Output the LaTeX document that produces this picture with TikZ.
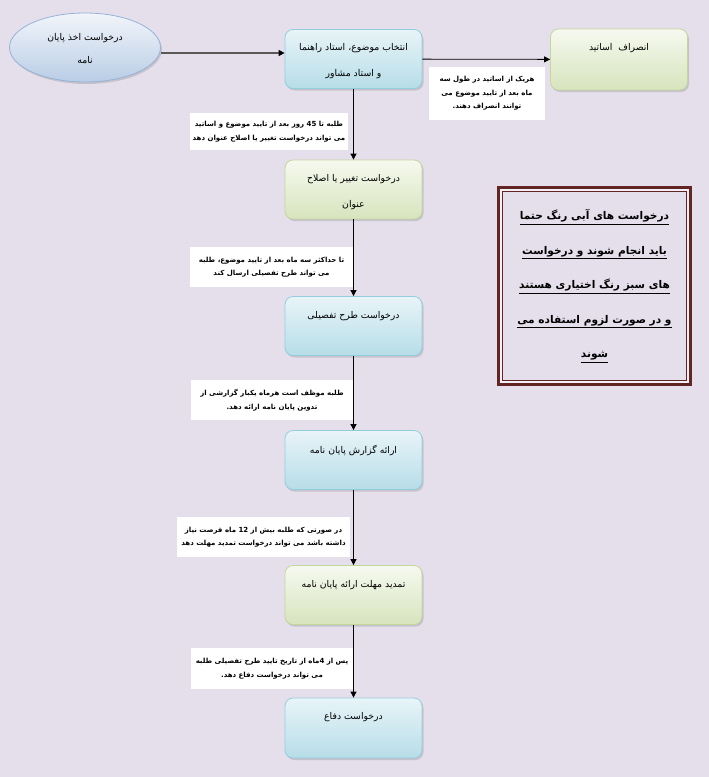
\documentclass[tikz,border=0pt]{standalone}
\usepackage{fontspec}
\usetikzlibrary{shadows,arrows.meta,shapes.geometric}
\newfontfamily\arabicfont[Script=Arabic]{DejaVu Sans}
\TeXXeTstate=1
\newcommand{\arl}[1]{\beginR #1\endR}
\newcommand{\ulr}[1]{\underline{\beginR #1\endR}}
\definecolor{bg}{HTML}{E5DFEC}
\definecolor{bluetop}{HTML}{E8F4F8}
\definecolor{bluebot}{HTML}{B7DDE8}
\definecolor{blueline}{HTML}{93CDDD}
\definecolor{greentop}{HTML}{F6F9EF}
\definecolor{greenbot}{HTML}{D7E4BD}
\definecolor{greenline}{HTML}{C3D69B}
\definecolor{elltop}{HTML}{F2F5FA}
\definecolor{ellbot}{HTML}{B9CDE5}
\definecolor{ellline}{HTML}{95B3D7}
\definecolor{maroon}{HTML}{632523}
\definecolor{darkline}{HTML}{595959}
\begin{document}
\begin{tikzpicture}[x=1pt,y=-1pt,
  shad/.style={drop shadow={shadow xshift=1.5pt, shadow yshift=-2pt, opacity=0.3}},
  boxbase/.style={rectangle, rounded corners=8pt, minimum width=137pt, minimum height=59pt, inner sep=0pt, line width=0.8pt, shad},
  bluebox/.style={boxbase, draw=blueline, top color=bluetop, bottom color=bluebot},
  greenbox/.style={boxbase, draw=greenline, top color=greentop, bottom color=greenbot},
  boxtext/.style={anchor=north, inner sep=0pt, align=center, font=\arabicfont\fontsize{9.3}{26}\selectfont},
  note/.style={rectangle, fill=white, inner sep=0pt, align=center, font=\arabicfont\bfseries\fontsize{7}{13.5}\selectfont},
  arr/.style={-{Triangle[length=6pt,width=6pt]}, line width=0.8pt, black},
]
\fill[bg] (0,0) rectangle (709,777);
\useasboundingbox (0,0) rectangle (709,777);

% start ellipse
\node[ellipse, minimum width=151pt, minimum height=69pt, inner sep=0pt, draw=ellline, line width=0.8pt, top color=elltop, bottom color=ellbot, shad] (ell) at (85,47.5) {};
\node[boxtext, font=\arabicfont\fontsize{9.3}{23}\selectfont] (tell) at ([yshift=-20.5pt]ell.north) {\arl{درخواست اخذ پایان}\\\arl{نامه}};

% boxes
\node[bluebox] (b1) at (353.5,59) {};
\node[boxtext] (t1) at ([yshift=-14.5pt]b1.north) {\arl{انتخاب موضوع، استاد راهنما}\\\arl{و استاد مشاور}};
\node[greenbox, minimum height=61pt] (bR) at (619,59.5) {};
\node[boxtext] (tR) at ([yshift=-14.5pt]bR.north) {\arl{انصراف\ \ اساتید}};
\node[greenbox] (b2) at (353.5,189.5) {};
\node[boxtext] (t2) at ([yshift=-14.5pt]b2.north) {\arl{درخواست تغییر یا اصلاح}\\\arl{عنوان}};
\node[bluebox] (b3) at (353.5,326) {};
\node[boxtext] (t3) at ([yshift=-15pt]b3.north) {\arl{درخواست طرح تفصیلی}};
\node[bluebox] (b4) at (353.5,460) {};
\node[boxtext] (t4) at ([yshift=-15pt]b4.north) {\arl{ارائه گزارش پایان نامه}};
\node[greenbox] (b5) at (353.5,595) {};
\node[boxtext] (t5) at ([yshift=-15pt]b5.north) {\arl{تمدید مهلت ارائه پایان نامه}};
\node[bluebox, minimum height=60pt] (b6) at (353.5,728) {};
\node[boxtext] (t6) at ([yshift=-15pt]b6.north) {\arl{درخواست دفاع}};

% notes
\node[note, minimum width=116pt, minimum height=53pt] (nR) at (487,93.5) {\arl{هریک از اساتید در طول سه}\\\arl{ماه بعد از تایید موضوع می}\\\arl{توانند انصراف دهند.}};
\node[note, minimum width=158pt, minimum height=37pt] (n1) at (269,131.5) {\arl{طلبه تا 45 روز بعد از تایید موضوع و اساتید}\\\arl{می تواند درخواست تغییر یا اصلاح عنوان دهد}};
\node[note, minimum width=163pt, minimum height=40pt] (n2) at (271.5,267) {\arl{تا حداکثر سه ماه بعد از تایید موضوع، طلبه}\\\arl{می تواند طرح تفصیلی ارسال کند}};
\node[note, minimum width=162pt, minimum height=40pt] (n3) at (272,400) {\arl{طلبه موظف است هرماه یکبار گزارشی از}\\\arl{تدوین پایان نامه ارائه دهد.}};
\node[note, minimum width=173pt, minimum height=40pt] (n4) at (263.5,537) {\arl{در صورتی که طلبه بیش از 12 ماه فرصت نیاز}\\\arl{داشته باشد می تواند درخواست تمدید مهلت دهد}};
\node[note, minimum width=162pt, minimum height=41pt] (n5) at (272,668.5) {\arl{پس از 4ماه از تاریخ تایید طرح تفصیلی طلبه}\\\arl{می تواند درخواست دفاع دهد.}};

% side legend
\node[draw=maroon, line width=6pt, minimum width=189pt, minimum height=194pt, inner sep=0pt, align=center, font=\arabicfont\bfseries\fontsize{10.6}{34.5}\selectfont] (side) at (594.5,286) {\ulr{درخواست های آبی رنگ حتما}\\\ulr{باید انجام شوند و درخواست}\\\ulr{های سبز رنگ اختیاری هستند}\\\ulr{و در صورت لزوم استفاده می}\\\ulr{شوند}};
\draw[white!50!bg, line width=1.6pt] ([shift={(3.8,3.8)}]side.north west) rectangle ([shift={(-3.8,-3.8)}]side.south east);
\draw[maroon, line width=1.2pt] ([shift={(5.4,5.4)}]side.north west) rectangle ([shift={(-5.4,-5.4)}]side.south east);

% connectors
\coordinate (e1) at ([yshift=-5.5pt]ell.east);
\draw[-{Triangle[length=6pt,width=6pt,color=black]}, line width=1.6pt, darkline] (e1) -- (e1 -| b1.west);
\draw[arr] (b1) -- (bR);
\draw[arr] (b1) -- (b2);
\draw[arr] (b2) -- (b3);
\draw[arr] (b3) -- (b4);
\draw[arr] (b4) -- (b5);
\draw[arr] (b5) -- (b6);
\end{tikzpicture}
\end{document}
